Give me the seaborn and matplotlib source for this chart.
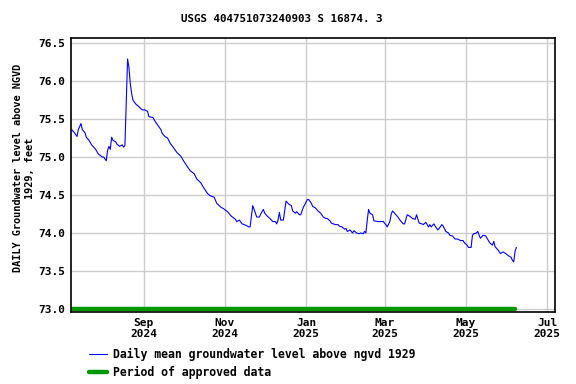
import pandas as pd
import matplotlib
matplotlib.use("Agg")
import matplotlib.pyplot as plt
import matplotlib.dates as mdates
from matplotlib.lines import Line2D
import seaborn as sns

# days counted from 2024-09-01
ref_day = "2024-09-01"
day_offset = [-54, -52, -50, -49, -47, -46, -44, -43, -41, -39, -36, -34, -31, -30, -28, -27,
              -26, -25, -24, -23, -21, -20, -18, -16, -15, -14, -13, -12, -11, -10, -9, -8,
              -6, -4, -1, 1, 3, 4, 7, 9, 11, 13, 14, 16, 18, 20, 23, 25, 28, 30, 33, 35,
              38, 40, 43, 45, 48, 50, 53, 55, 58, 60, 63, 65, 66, 69, 70, 72, 74, 77, 79,
              80, 82, 83, 85, 87, 88, 90, 91, 93, 95, 97, 99, 100, 101, 102, 103, 105, 107,
              109, 111, 112, 114, 115, 117, 118, 120, 121, 123, 124, 126, 127, 129, 131,
              133, 135, 137, 138, 140, 141, 144, 146, 147, 149, 151, 152, 153, 155, 157,
              158, 160, 162, 163, 165, 166, 167, 168, 169, 170, 172, 173, 176, 178, 180,
              182, 183, 185, 186, 187, 189, 191, 193, 195, 196, 198, 200, 202, 204, 205,
              207, 209, 210, 212, 214, 215, 216, 218, 219, 221, 222, 224, 225, 227, 229,
              230, 232, 234, 236, 238, 240, 241, 243, 244, 246, 247, 248, 250, 251, 252,
              253, 255, 257, 258, 260, 262, 263, 264, 266, 268, 270, 272, 274, 276, 277,
              278, 279, 280]
level_ft = [75.36, 75.32, 75.27, 75.36, 75.44, 75.36, 75.32, 75.26, 75.22, 75.16, 75.10, 75.04,
            75.00, 75.00, 74.95, 75.09, 75.14, 75.10, 75.26, 75.22, 75.20, 75.17, 75.14, 75.16,
            75.13, 75.15, 75.74, 76.29, 76.18, 75.97, 75.84, 75.75, 75.70, 75.67, 75.62, 75.62,
            75.60, 75.53, 75.52, 75.46, 75.41, 75.36, 75.31, 75.27, 75.25, 75.18, 75.11, 75.06,
            75.01, 74.95, 74.87, 74.82, 74.78, 74.71, 74.66, 74.60, 74.52, 74.49, 74.47, 74.39,
            74.34, 74.32, 74.28, 74.24, 74.22, 74.18, 74.15, 74.17, 74.12, 74.10, 74.08, 74.08,
            74.36, 74.31, 74.21, 74.21, 74.25, 74.31, 74.26, 74.22, 74.19, 74.15, 74.15, 74.12,
            74.17, 74.27, 74.17, 74.17, 74.42, 74.38, 74.36, 74.29, 74.26, 74.28, 74.24, 74.24,
            74.34, 74.37, 74.44, 74.44, 74.39, 74.35, 74.33, 74.29, 74.26, 74.21, 74.19, 74.19,
            74.16, 74.13, 74.11, 74.11, 74.09, 74.08, 74.05, 74.06, 74.02, 74.04, 74.00, 74.03,
            74.00, 73.99, 74.00, 73.99, 74.02, 74.00, 74.17, 74.31, 74.26, 74.24, 74.16, 74.15,
            74.15, 74.15, 74.11, 74.08, 74.15, 74.25, 74.29, 74.25, 74.21, 74.16, 74.12, 74.12,
            74.24, 74.22, 74.19, 74.18, 74.24, 74.13, 74.12, 74.11, 74.14, 74.08, 74.11, 74.08,
            74.12, 74.09, 74.04, 74.06, 74.11, 74.09, 74.02, 74.00, 73.97, 73.96, 73.92, 73.92,
            73.90, 73.90, 73.87, 73.84, 73.81, 73.81, 73.97, 73.99, 74.00, 74.02, 73.97, 73.93,
            73.97, 73.96, 73.93, 73.87, 73.84, 73.89, 73.82, 73.78, 73.73, 73.75, 73.73, 73.70,
            73.68, 73.64, 73.62, 73.76, 73.81]

approved_dates = ["2024-07-09", "2025-06-07"]
approved_level = [73.0, 73.0]

df = pd.DataFrame({
    "date": pd.Timestamp(ref_day) + pd.to_timedelta(day_offset, unit="D"),
    "level": level_ft,
})
appr = pd.DataFrame({"date": pd.to_datetime(approved_dates), "level": approved_level})

sns.set_style("white")
plt.rcParams["font.family"] = ["DejaVu Sans Mono"]
plt.rcParams["font.weight"] = "bold"
plt.rcParams["text.color"] = "black"
plt.rcParams["xtick.color"] = "black"
plt.rcParams["ytick.color"] = "black"

fig = plt.figure(figsize=(5.76, 3.84), dpi=100)
ax = fig.add_axes([71 / 576, 1 - 312 / 384, 484 / 576, 274 / 384])

sns.lineplot(data=df, x="date", y="level", ax=ax, color="#0000ff", lw=0.8, estimator=None)
sns.lineplot(data=appr, x="date", y="level", ax=ax, color="#009900", lw=3.2, estimator=None)

ax.set_xlim(pd.Timestamp(ref_day) - pd.Timedelta(days=54.5), pd.Timestamp(ref_day) + pd.Timedelta(days=309))
ax.set_ylim(72.96, 76.566)
ax.set_yticks([73.0, 73.5, 74.0, 74.5, 75.0, 75.5, 76.0, 76.5])
ax.yaxis.set_major_formatter(matplotlib.ticker.FormatStrFormatter("%.1f"))
ax.xaxis.set_major_locator(mdates.MonthLocator(bymonth=[1, 3, 5, 7, 9, 11]))
ax.xaxis.set_major_formatter(mdates.DateFormatter("%b\n%Y"))
ax.tick_params(length=0, labelsize=8, pad=4, colors="black")
for lab in ax.get_xticklabels() + ax.get_yticklabels():
    lab.set_fontweight("bold")
ax.grid(True, color="#cccccc", lw=1)
for s in ax.spines.values():
    s.set_color("black")
    s.set_linewidth(1.2)
ax.set_xlabel("")
ax.set_ylabel("")

fig.text(0.49, 0.95, "USGS 404751073240903 S 16874. 3", ha="center", va="center",
         fontsize=7.8, fontweight="bold", color="black")
fig.text(24 / 576, 1 - 168 / 384, "DAILY Groundwater level above NGVD\n1929, feet",
         rotation=90, ha="center", va="center", multialignment="center",
         fontsize=7.4, fontweight="bold", color="black")

handles = [Line2D([], [], color="#0000ff", lw=0.8), Line2D([], [], color="#009900", lw=3.2)]
fig.legend(handles, ["Daily mean groundwater level above ngvd 1929", "Period of approved data"],
           loc="upper left", bbox_to_anchor=(89 / 576, 1 - 348 / 384), frameon=False,
           handlelength=1.6, handletextpad=0.45, labelspacing=0.45,
           borderaxespad=0, borderpad=0, labelcolor="black",
           prop={"weight": "bold", "size": 8.3})

fig.savefig("out.png", dpi=100)
